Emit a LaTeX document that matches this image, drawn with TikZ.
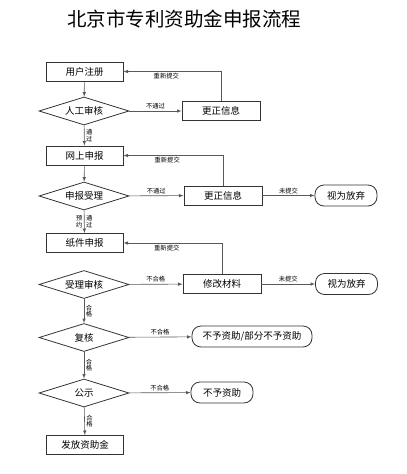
\documentclass[tikz,border=0pt]{standalone}
\usepackage{fontspec}
\setmainfont{Noto Sans CJK SC}
\usetikzlibrary{arrows}
\usetikzlibrary{shapes.geometric}

\begin{document}
\begin{tikzpicture}[x=1pt,y=-1pt,
    box/.style={draw=black!80, line width=.8pt, minimum width=77pt, minimum height=19pt, inner sep=0pt, font=\fontsize{9.5}{10}\selectfont},
    raute/.style={diamond, aspect=3, draw=black!80, line width=.8pt, minimum width=90pt, minimum height=28pt, inner sep=0pt, font=\fontsize{9.5}{10}\selectfont},
    ende/.style={box, rounded corners=9pt, minimum width=62pt, minimum height=21pt},
    pfeil/.style={draw=black!65, line width=.6pt, -latex},
    lab/.style={font=\fontsize{6.3}{6.6}\selectfont, inner sep=1.5pt, align=center}]
    \useasboundingbox (0,0) rectangle (407,474);
    \node[font=\fontsize{19.5}{20}\selectfont] (titel) at (184,19) {北京市专利资助金申报流程};
    % linke Spalte
    \node[box] (reg) at (84.5,71.5) {用户注册};
    \node[raute] (chk) at (84,111) {人工审核};
    \node[box] (web) at (84.5,155.5) {网上申报};
    \node[raute] (acc) at (84,196) {申报受理};
    \node[box] (paper) at (84.5,243) {纸件申报};
    \node[raute] (rev) at (84,284.5) {受理审核};
    \node[raute] (re) at (84,337.5) {复核};
    \node[raute] (pub) at (84,393) {公示};
    \node[box] (pay) at (85,445) {发放资助金};
    % mittlere Spalte
    \node[box, minimum width=78pt] (fixa) at (221,111) {更正信息};
    \node[box, minimum width=78pt] (fixb) at (223,195.5) {更正信息};
    \node[box, minimum width=78pt] (mod) at (222,284) {修改材料};
    \node[ende, minimum width=120pt] (denya) at (252,336.5) {不予资助/部分不予资助};
    \node[ende] (denyb) at (222,392.5) {不予资助};
    % rechte Spalte
    \node[ende] (quita) at (346,195.5) {视为放弃};
    \node[ende] (quitb) at (346.5,284) {视为放弃};
    \foreach \a/\b in {reg/chk, web/acc}
    {
      \draw[pfeil] (\a) -- (\b);
    }
    \foreach \a/\b/\t in {chk/web/通\\过, rev/re/合\\格, re/pub/合\\格, pub/pay/合\\格}
    {
      \draw[pfeil] (\a) -- (\b) node[lab, midway, right] {\t};
    }
    \draw[pfeil] (acc) -- (paper) node[lab, midway, right] {通\\过} node[lab, midway, left] {预\\约};
    \foreach \a/\b/\t in {chk/fixa/不通过, acc/fixb/不通过, rev/mod/不合格, re/denya/不合格, pub/denyb/不合格, fixb/quita/未提交, mod/quitb/未提交}
    {
      \draw[pfeil] (\a) -- (\b) node[lab, midway, above] {\t};
    }
    \foreach \a/\b in {fixa/reg, fixb/web, mod/paper}
    {
      \draw[pfeil] (\a.north) |- (\b.east) node[lab, pos=.78, below] {重新提交};
    }
\end{tikzpicture}
\end{document}
